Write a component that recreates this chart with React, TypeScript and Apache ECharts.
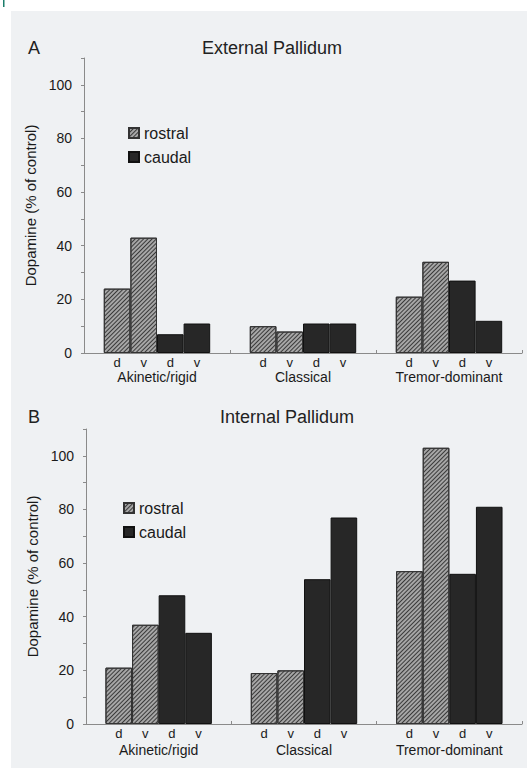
import React, { useEffect, useRef } from "react";
import * as echarts from "echarts";

const categories = ["Akinetic/rigid", "Classical", "Tremor-dominant"];
const yTicks = [0, 20, 40, 60, 80, 100];

// External pallidum (panel A)
const extRostralD = [24, 10, 21];
const extRostralV = [43, 8, 34];
const extCaudalD = [7, 11, 27];
const extCaudalV = [11, 11, 12];

// Internal pallidum (panel B)
const intRostralD = [21, 19, 57];
const intRostralV = [37, 20, 103];
const intCaudalD = [48, 54, 56];
const intCaudalV = [34, 77, 81];

const FONT = "'Liberation Sans', Arial, sans-serif";
const TEXT = "#1a1a1a";
const AXIS = "#8a8a8a";

const hatch = {
  color: "#a6a6a6",
  borderColor: "#333333",
  borderWidth: 1,
  decal: {
    symbol: "rect",
    symbolSize: 1,
    color: "#3a3a3a",
    dashArrayX: [1, 0],
    dashArrayY: [1, 1.2],
    rotation: -Math.PI / 4,
  },
};
const solid = { color: "#272727", borderColor: "#111111", borderWidth: 1 };

function bar(name: string, tag: string, data: number[], idx: number, style: any) {
  return {
    type: "bar",
    name,
    xAxisIndex: idx,
    yAxisIndex: idx,
    data,
    barWidth: 26.6,
    barGap: "0%",
    itemStyle: style,
    label: {
      show: true,
      position: "bottom",
      distance: 3,
      formatter: tag,
      fontSize: 13,
      color: TEXT,
      fontFamily: FONT,
    },
    emphasis: { disabled: true },
  };
}

function xAxis(idx: number, margin: number) {
  return {
    type: "category",
    gridIndex: idx,
    data: categories,
    boundaryGap: true,
    axisLine: { lineStyle: { color: AXIS, width: 1 } },
    axisTick: { show: true, inside: true, length: 3, lineStyle: { color: AXIS } },
    axisLabel: { margin, fontSize: 14, color: TEXT, fontFamily: FONT },
  };
}

function yAxis(idx: number, nameGap: number) {
  return {
    type: "value",
    gridIndex: idx,
    min: 0,
    max: 110,
    interval: 10,
    name: "Dopamine (% of control)",
    nameLocation: "middle",
    nameRotate: 90,
    nameGap,
    nameTextStyle: { fontSize: 15, color: TEXT, fontFamily: FONT },
    axisLine: { show: true, lineStyle: { color: AXIS, width: 1 } },
    axisTick: { show: true, length: 3, lineStyle: { color: AXIS } },
    splitLine: { show: false },
    axisLabel: {
      margin: 12,
      fontSize: 14,
      color: TEXT,
      fontFamily: FONT,
      formatter: (v: number) => (yTicks.indexOf(v) >= 0 ? String(v) : ""),
    },
  };
}

function legend(left: number, top: number) {
  return {
    orient: "vertical",
    left,
    top,
    padding: 0,
    data: ["rostral", "caudal"],
    icon: "rect",
    itemWidth: 10,
    itemHeight: 10,
    itemGap: 8,
    itemTextGap: 6,
    selectedMode: false,
    textStyle: { fontSize: 16, color: TEXT, fontFamily: FONT },
  };
}

export default function App() {
  const ref = useRef<HTMLDivElement>(null);
  useEffect(() => {
    if (!ref.current) return;
    const chart = echarts.init(ref.current, null, { renderer: "svg" });
    chart.setOption({
      animation: false,
      backgroundColor: "#ffffff",
      graphic: [
        { type: "rect", z: -100, shape: { x: 11, y: 11, width: 516, height: 757 }, style: { fill: "#eff1f3" } },
        { type: "rect", z: -100, shape: { x: 3, y: 0, width: 1.5, height: 7 }, style: { fill: "#1b7d6b" } },
        { type: "text", x: 34, y: 48, style: { text: "A", fontSize: 18, fill: "#222", fontFamily: FONT, align: "center", verticalAlign: "middle" } },
        { type: "text", x: 272, y: 48, style: { text: "External Pallidum", fontSize: 18, fill: "#222", fontFamily: FONT, align: "center", verticalAlign: "middle" } },
        { type: "text", x: 34, y: 417, style: { text: "B", fontSize: 18, fill: "#222", fontFamily: FONT, align: "center", verticalAlign: "middle" } },
        { type: "text", x: 287, y: 417, style: { text: "Internal Pallidum", fontSize: 18, fill: "#222", fontFamily: FONT, align: "center", verticalAlign: "middle" } },
      ],
      legend: [legend(128, 125), legend(123, 500)],
      grid: [
        { left: 84, width: 438, top: 58, height: 295 },
        { left: 86, width: 436, top: 429, height: 295 },
      ],
      xAxis: [xAxis(0, 17), xAxis(1, 19)],
      yAxis: [yAxis(0, 43), yAxis(1, 42)],
      series: [
        bar("rostral", "d", extRostralD, 0, hatch),
        bar("rostral", "v", extRostralV, 0, hatch),
        bar("caudal", "d", extCaudalD, 0, solid),
        bar("caudal", "v", extCaudalV, 0, solid),
        bar("rostral", "d", intRostralD, 1, hatch),
        bar("rostral", "v", intRostralV, 1, hatch),
        bar("caudal", "d", intCaudalD, 1, solid),
        bar("caudal", "v", intCaudalV, 1, solid),
      ],
    });
    return () => chart.dispose();
  }, []);
  return (
    <div
      ref={ref}
      style={{ position: "absolute", left: 0, top: 0, width: 527, height: 768 }}
    />
  );
}
